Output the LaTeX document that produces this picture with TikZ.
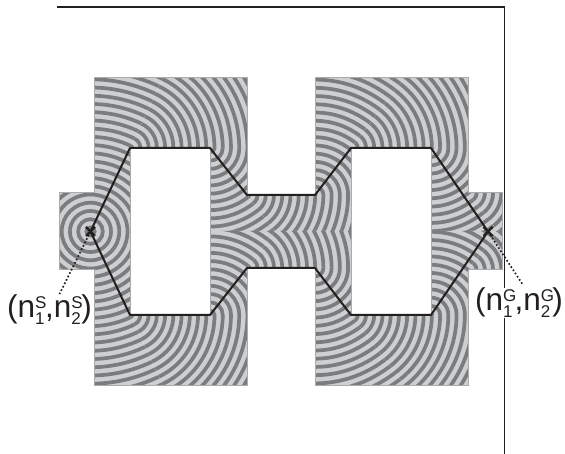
\documentclass[tikz,border=0pt]{standalone}
\usepackage{fontspec}
\setmainfont{Liberation Sans}
\definecolor{lightband}{HTML}{CDCFD1}
\definecolor{darkband}{HTML}{7A7C7E}
\definecolor{edgegrey}{HTML}{A9ABAD}
\definecolor{ink}{HTML}{231F20}
\newcommand{\lam}{8.23}
\newcommand{\phs}{4.1}
% centre x,y ; geodesic distance ; clip polygon
\newcommand{\rings}[4]{%
  \begin{scope}
    \clip #4;
    \fill[lightband] (0,0) rectangle (565,454);
    \pgfmathtruncatemacro{\kmin}{max(0,floor((#3-\phs)/\lam))}
    \pgfmathtruncatemacro{\kmax}{\kmin+50}
    \foreach \k in {\kmin,...,\kmax}{%
      \pgfmathsetmacro{\rr}{\k*\lam+\phs-#3}
      \ifdim\rr pt>0pt
        \draw[darkband,line width=3.7pt] (#1,#2) circle [radius=\rr pt];
      \fi
    }
  \end{scope}}
\newcommand{\halfpattern}{%
  \rings{90.5}{231.5}{0}{(59,193) -- (94,193) -- (94,78) -- (163,78) -- (130,148) -- (130,232.2) -- (59,232.2) -- cycle}
  \rings{130}{148}{92.4}{(130,148) -- (163,78) -- (247,78) -- (247,148) -- cycle}
  \rings{210}{148}{172.4}{(210,148) -- (247,148) -- (247,195) -- (275.7,232.2) -- (210,232.2) -- cycle}
  \rings{247}{195}{232.2}{(247,195) -- (351,195) -- (351,232.2) -- (275.7,232.2) -- cycle}
  \rings{315}{195}{300.2}{(315,195) -- (315,78) -- (404.6,78) -- (351,148) -- (351,195) -- cycle}
  \rings{351}{148}{359.4}{(351,148) -- (404.6,78) -- (468,78) -- (468,148) -- cycle}
  \rings{431}{148}{439.4}{(431,148) -- (468,148) -- (468,193) -- (499,232.2) -- (431,232.2) -- cycle}
  \rings{468}{193}{497.5}{(468,193) -- (502,193) -- (502,232.2) -- (499,232.2) -- cycle}
}
\newcommand{\supsub}[3]{\makebox[#3][l]{\makebox[0pt][l]{\raisebox{9pt}{\fontsize{17}{17}\selectfont #1}}\raisebox{-7pt}{\fontsize{17}{17}\selectfont #2}}}
\begin{document}
\begin{tikzpicture}[x=1pt,y=-1pt,
  pathline/.style={ink,line width=2pt,line join=round},
  dotline/.style={ink,line width=1.7pt,dash pattern=on 1.6pt off 2.2pt},
  frameline/.style={ink,line width=1.1pt},
  tag/.style={inner sep=0pt,anchor=base west,text=ink,font=\fontsize{31.5}{32}\selectfont},
  crossmark/.style={ink,line width=2.2pt}]
\useasboundingbox (0,0) rectangle (565,454);
\fill[white] (0,0) rectangle (565,454);
\draw[frameline] (57,7) -- (504.5,7) -- (504.5,454);
\halfpattern
\begin{scope}[shift={(0,463)},yscale=-1]
\halfpattern
\end{scope}
\draw[edgegrey,line width=1pt]
  (59.5,193) -- (94,193) -- (94,78) -- (247,78) -- (247,195) -- (315,195) -- (315,78) -- (468,78) -- (468,193) -- (502,193)
  -- (502,270) -- (468,270) -- (468,385) -- (315,385) -- (315,268) -- (247,268) -- (247,385) -- (94,385) -- (94,270) -- (59.5,270) -- cycle;
\fill[white,draw=edgegrey,line width=0.8pt] (130,148) rectangle (210,315);
\fill[white,draw=edgegrey,line width=0.8pt] (351,148) rectangle (431,315);
\coordinate (S) at (90.5,231.5);
\coordinate (T) at (488,231.5);
\coordinate (A) at (130,148);
\coordinate (B) at (210,148);
\coordinate (C) at (247,195);
\coordinate (D) at (315,195);
\coordinate (E) at (351,148);
\coordinate (F) at (431,148);
\coordinate (Ab) at (130,315);
\coordinate (Bb) at (210,315);
\coordinate (Cb) at (247,268);
\coordinate (Db) at (315,268);
\coordinate (Eb) at (351,315);
\coordinate (Fb) at (431,315);
\coordinate (Sd) at (59.5,294);
\coordinate (Td) at (523,285);
\draw[pathline] (S) -- (A) -- (B) -- (C) -- (D) -- (E) -- (F) -- (T) -- (Fb) -- (Eb) -- (Db) -- (Cb) -- (Bb) -- (Ab) -- cycle;
\node[tag] (lblS) at (7,318) {(n\supsub{S}{1}{10pt},n\supsub{S}{2}{10pt})};
\node[tag,fill=white] (lblG) at (475,311) {(n\supsub{G}{1}{11.5pt},n\supsub{G}{2}{11.5pt})};
\draw[dotline] (S) -- (Sd);
\draw[dotline] (T) -- (Td);
\draw[crossmark] ([shift={(-4.5,-4.5)}]S) -- ([shift={(4.5,4.5)}]S) ([shift={(-4.5,4.5)}]S) -- ([shift={(4.5,-4.5)}]S);
\draw[crossmark] ([shift={(-4.5,-4.5)}]T) -- ([shift={(4.5,4.5)}]T) ([shift={(-4.5,4.5)}]T) -- ([shift={(4.5,-4.5)}]T);
\end{tikzpicture}
\end{document}
